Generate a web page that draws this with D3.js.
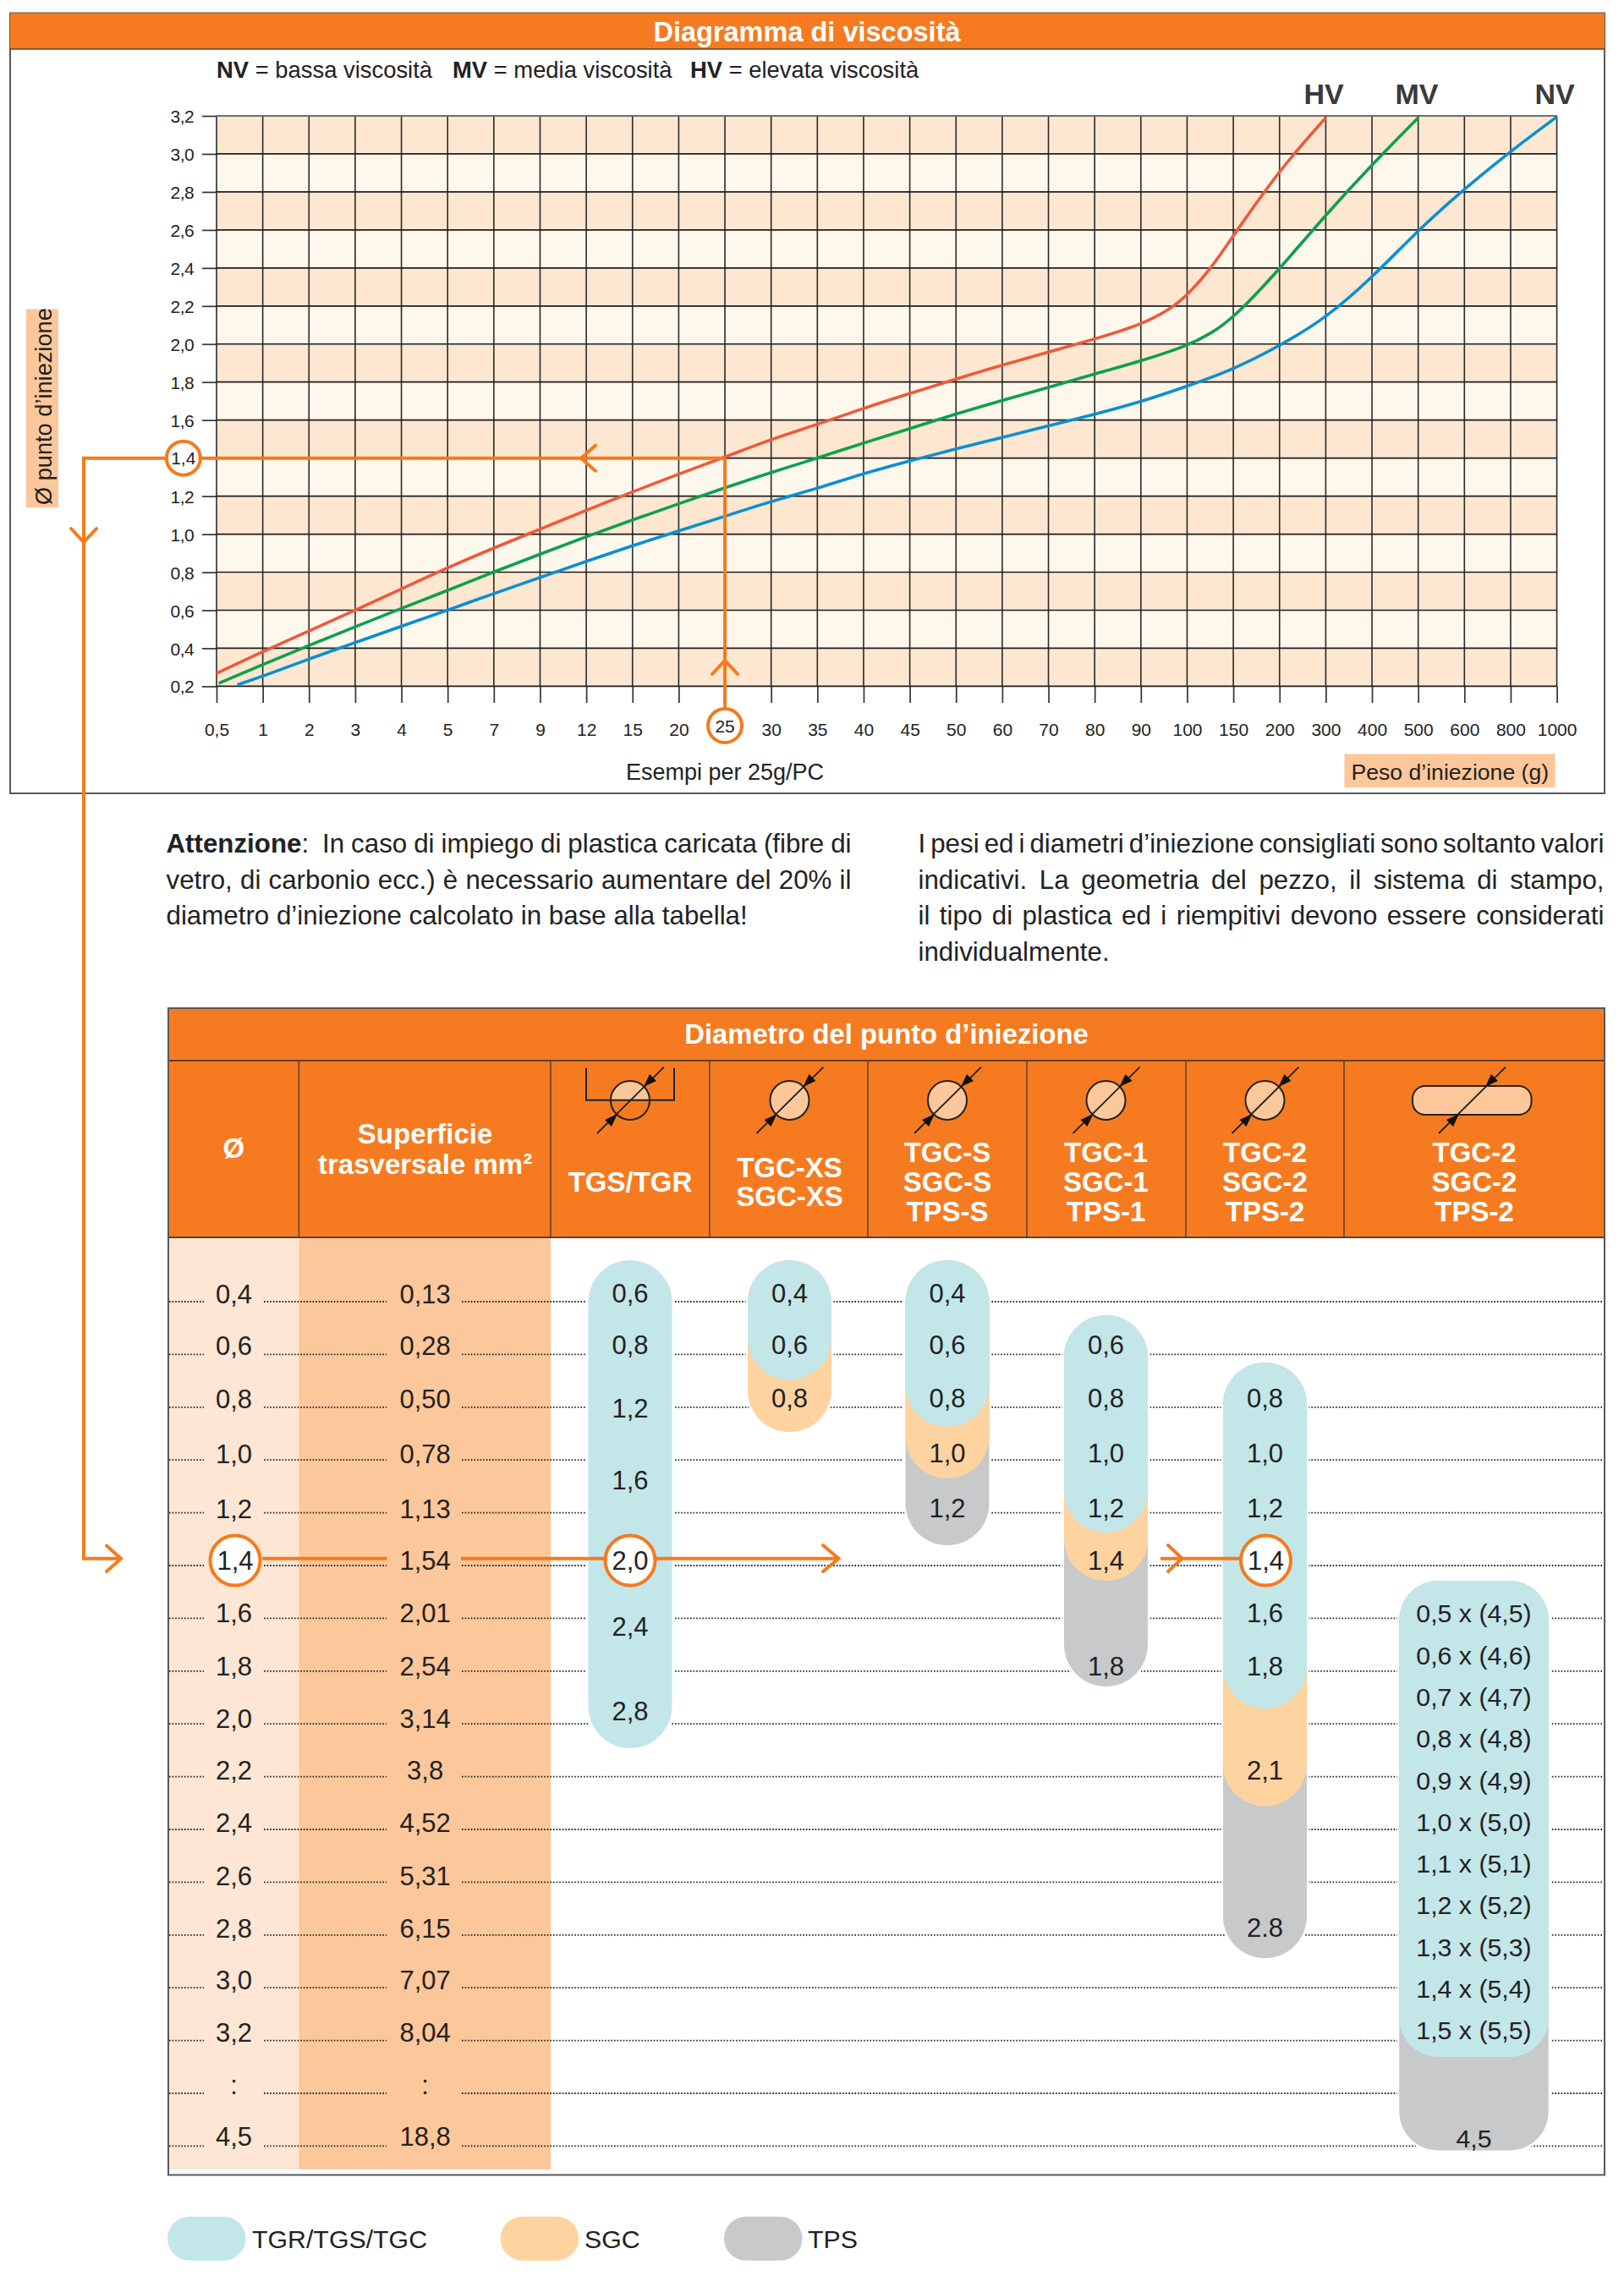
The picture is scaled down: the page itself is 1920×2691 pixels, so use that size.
<!DOCTYPE html>
<html><head><meta charset="utf-8">
<script src="https://d3js.org/d3.v7.min.js"></script>
<style>html,body{margin:0;padding:0;background:#fff}svg{display:block}text{font-family:"Liberation Sans",Arial,sans-serif;fill:#222}</style>
</head><body><svg id="c" width="1920" height="2691"></svg>
<script>
// ---------- data: viscosity diagram ----------
const weightTicks=["0,5","1","2","3","4","5","7","9","12","15","20","25","30","35","40","45","50","60","70","80","90","100","150","200","300","400","500","600","800","1000"];
const diamTicks=[0.2,0.4,0.6,0.8,1.0,1.2,1.4,1.6,1.8,2.0,2.2,2.4,2.6,2.8,3.0,3.2];
const hvPos=[0,1,2,3,4,5,6,7,8,9,10,11,12,13,14,15,16,17,18,19,20,20.68,21,21.5,22,23,24];
const hvVal=[0.268,0.383,0.49,0.60,0.712,0.824,0.928,1.026,1.126,1.222,1.317,1.405,1.5,1.576,1.663,1.74,1.816,1.89,1.957,2.026,2.1,2.19,2.257,2.39,2.57,2.917,3.19];
const mvPos=[0.05,1,2,3,4,5,6,7,8,9,10,11,12,13,14,15,16,17,18,19,20,21,21.5,22,23,24,25,26];
const mvVal=[0.216,0.314,0.415,0.513,0.61,0.704,0.802,0.895,0.987,1.075,1.16,1.244,1.325,1.4,1.48,1.554,1.633,1.704,1.772,1.843,1.91,1.99,2.053,2.135,2.394,2.68,2.944,3.19];
const nvPos=[0.45,1,2,3,4,5,6,7,8,9,10,11,12,13,14,15,16,17,18,19,20,21,22,23,24,25,26,27,28,29];
const nvVal=[0.208,0.252,0.344,0.43,0.516,0.6,0.688,0.772,0.857,0.94,1.017,1.094,1.173,1.24,1.32,1.385,1.45,1.508,1.57,1.63,1.696,1.778,1.866,1.99,2.135,2.348,2.6,2.816,3.015,3.195];
// ---------- data: table ----------
const diameters=["0,4","0,6","0,8","1,0","1,2","1,4","1,6","1,8","2,0","2,2","2,4","2,6","2,8","3,0","3,2",":","4,5"];
const areas=["0,13","0,28","0,50","0,78","1,13","1,54","2,01","2,54","3,14","3,8","4,52","5,31","6,15","7,07","8,04",":","18,8"];
const rowNudge=[0.03,0.01,0.02,0.06,0.1,0.08,0.07,0.08,0.08,0.05,0.05,0.05,0.05,0.03,0.03,0.02,0];
const gateTypes=["TGR/TGS/TGC","SGC","TPS"];
const colHeads=[["TGS/TGR"],["TGC-XS","SGC-XS"],["TGC-S","SGC-S","TPS-S"],["TGC-1","SGC-1","TPS-1"],["TGC-2","SGC-2","TPS-2"],["TGC-2","SGC-2","TPS-2"]];
// pills: [start row, end of TGR/TGS/TGC, end of SGC, end of TPS] (null = absent)
const pillRanges=[[-0.785,8.46,null,null],[-0.785,1.48,2.47,null],[-0.785,2.37,3.35,4.615],[0.256,4.375,5.29,7.29],[1.154,7.71,9.56,12.44],[5.29,14.31,null,16.08]];
const pill0Labels=["0,6","0,8","1,2","1,6","2,0","2,4","2,8"], pill0Rows=[0.02,1,2.19,3.55,5.08,6.33,7.94];
const pill1Labels=["0,4","0,6","0,8"], pill1Rows=[0.02,1,2.01];
const pill2Labels=["0,4","0,6","0,8","1,0","1,2"], pill2Rows=[0.02,1,2.01,3.05,4.09];
const pill3Labels=["0,6","0,8","1,0","1,2","1,4","1,8"], pill3Rows=[1,2.01,3.05,4.09,5.08,7.09];
const pill4Labels=["0,8","1,0","1,2","1,4","1,6","1,8","2,1","2.8"], pill4Rows=[2.01,3.05,4.09,5.08,6.08,7.09,9.06,12.04];
const pill5Labels=["0,5 x (4,5)","0,6 x (4,6)","0,7 x (4,7)","0,8 x (4,8)","0,9 x (4,9)","1,0 x (5,0)","1,1 x (5,1)","1,2 x (5,2)","1,3 x (5,3)","1,4 x (5,4)","1,5 x (5,5)","4,5"];
const pill5Rows=[6.08,6.87,7.66,8.45,9.24,10.03,10.82,11.61,12.4,13.19,13.98,16.02];
const noteLeft=["Attenzione:\u00a0\u00a0In caso di impiego di plastica caricata (fibre di","vetro, di carbonio ecc.) è necessario aumentare del 20% il","diametro d’iniezione calcolato in base alla tabella!"];
const noteRight=["I pesi ed i diametri d’iniezione consigliati sono soltanto valori","indicativi. La geometria del pezzo, il sistema di stampo,","il tipo di plastica ed i riempitivi devono essere considerati","individualmente."];

// ---------- style ----------
const ORANGE="#f67b20",BORDER="#58585a",ARROW="#f57a1d",PEACH="#fcc79a",PALE="#fde6d3";
const BLUE="#c3e6e9",SAND="#fed39f",GREY="#c8c9cb";
const svg=d3.select("#c");
svg.append("rect").attr("width",1920).attr("height",2691).attr("fill","#fff");
const txt=(g,x,y,s,o={})=>g.append("text").attr("x",x).attr("y",y).attr("text-anchor",o.a||"middle")
  .attr("font-size",o.s||31).attr("font-weight",o.b?"bold":null).style("fill",o.c||"#222").style("letter-spacing",o.ls||null).text(s);

// ========== upper panel ==========
const panel=svg.append("g");
panel.append("rect").attr("x",12).attr("y",15.5).attr("width",1885).attr("height",922.5).attr("fill","#fff").attr("stroke",BORDER).attr("stroke-width",2);
panel.append("rect").attr("x",12).attr("y",15.5).attr("width",1885).attr("height",42.5).attr("fill",ORANGE);
panel.append("line").attr("x1",12).attr("x2",1897).attr("y1",58).attr("y2",58).attr("stroke","#5a4030").attr("stroke-width",1.5);
txt(panel,954,48.5,"Diagramma di viscosità",{s:32.5,b:1,c:"#fff"});
const legendBits=[[256,"NV"," = bassa viscosità"],[535,"MV"," = media viscosità"],[816,"HV"," = elevata viscosità"]];
legendBits.forEach(([x,a,b])=>{const t=panel.append("text").attr("x",x).attr("y",92).attr("font-size",27.4);
  t.append("tspan").attr("font-weight","bold").text(a);t.append("tspan").text(b);});

const x=d3.scaleLinear().domain([0,weightTicks.length-1]).range([256,1840.6]);
const y=d3.scaleLinear().domain([0.2,3.2]).range([811.4,137]);
const plot=panel.append("g");
d3.range(diamTicks.length-1).forEach(i=>{
  plot.append("rect").attr("x",x(0)).attr("width",x(29)-x(0)).attr("y",y(diamTicks[i+1])).attr("height",y(diamTicks[i])-y(diamTicks[i+1]))
    .attr("fill",i%2==0?"#fde7d0":"#fef7ec");
});
const axL=d3.axisLeft(y).tickValues(diamTicks).tickSize(x(0)-239).tickPadding(10).tickFormat(d=>d3.format(".1f")(d).replace(".",","));
const gy=plot.append("g").attr("transform",`translate(${x(0)},0)`).call(axL);
const axB=d3.axisBottom(x).tickValues(d3.range(weightTicks.length)).tickSize(831-y(0.2)).tickPadding(24).tickFormat(i=>weightTicks[i]);
const gx=plot.append("g").attr("transform",`translate(0,${y(0.2)})`).call(axB);
[gy,gx].forEach(g=>{g.select(".domain").remove();g.selectAll("text").attr("font-size",21).style("fill","#222").style("font-family",'"Liberation Sans"');g.selectAll("line").attr("stroke","#333").attr("stroke-width",1.7);});
gy.selectAll("text").style("letter-spacing","-0.6px").attr("dy","0.36em");
// full grid
plot.append("g").selectAll("line").data(d3.range(weightTicks.length)).join("line").attr("x1",d=>x(d)).attr("x2",d=>x(d)).attr("y1",y(3.2)).attr("y2",y(0.2)).attr("stroke","#2a2a2a").attr("stroke-width",1.6);
plot.append("g").selectAll("line").data(diamTicks).join("line").attr("x1",x(0)).attr("x2",x(29)).attr("y1",d=>y(d)).attr("y2",d=>y(d)).attr("stroke","#1e1e1e").attr("stroke-width",1.7);
plot.append("line").attr("x1",x(0)).attr("x2",x(29)).attr("y1",y(3.2)).attr("y2",y(3.2)).attr("stroke","#777").attr("stroke-width",1.7);
// curves
const line=d3.line().x(d=>x(d[0])).y(d=>y(d[1])).curve(d3.curveBasis);
[[hvPos,hvVal,"#ee5a3c"],[mvPos,mvVal,"#0da04f"],[nvPos,nvVal,"#0b8fd2"]].forEach(([p,v,c])=>{
  plot.append("path").datum(p.map((q,i)=>[q,v[i]])).attr("d",line).attr("fill","none").attr("stroke",c).attr("stroke-width",3.6);
});
txt(panel,1565,122.5,"HV",{s:34,b:1,c:"#3a3a3c"});
txt(panel,1675,122.5,"MV",{s:34,b:1,c:"#3a3a3c"});
txt(panel,1838,122.5,"NV",{s:34,b:1,c:"#3a3a3c"});
// axis titles
panel.append("rect").attr("x",31).attr("y",365.5).attr("width",38).attr("height",234.5).attr("fill",PEACH);
panel.append("text").attr("transform","translate(61,597) rotate(-90)").attr("font-size",27.2).text("Ø punto d’iniezione");
txt(panel,740,921.6,"Esempi per 25g/PC",{a:"start",s:27});
panel.append("rect").attr("x",1589.5).attr("y",891.5).attr("width",249).attr("height",39.5).attr("fill",PEACH);
txt(panel,1597.5,921.6,"Peso d’iniezione (g)",{a:"start",s:26.6});

// ========== notes ==========
const notes=svg.append("g");
function justify(t,w){const s=t.text().split(/[ \u00a0]/).length-1;const l=t.node().getComputedTextLength();t.attr("word-spacing",(w-l)/s);}
noteLeft.forEach((s,i)=>{
  const t=notes.append("text").attr("x",196.5).attr("y",1008+i*42.7).attr("font-size",31.3);
  if(i==0){t.append("tspan").attr("font-weight","bold").text("Attenzione");t.append("tspan").text(s.slice(10));}else t.text(s);
  if(i<2)justify(t,810);
});
noteRight.forEach((s,i)=>{
  const t=notes.append("text").attr("x",1085.5).attr("y",1008+i*42.7).attr("font-size",31.3).text(s);
  if(i<3)justify(t,811);
});

// ========== table ==========
const tab=svg.append("g");
const colX=[199,353.4,651,839,1026,1214,1402,1589,1897];
const colC=[745,933.5,1120,1307.5,1495.5,1743];
const row=d3.scaleLinear().domain([0,16]).range([1539,2537.4]);
tab.append("rect").attr("x",colX[0]).attr("y",1463).attr("width",colX[1]-colX[0]).attr("height",2565-1463).attr("fill",PALE);
tab.append("rect").attr("x",colX[1]).attr("y",1463).attr("width",colX[2]-colX[1]).attr("height",2565-1463).attr("fill",PEACH);
tab.append("rect").attr("x",colX[0]).attr("y",1192).attr("width",colX[8]-colX[0]).attr("height",271).attr("fill",ORANGE);
// dotted rows
const dots=(x1,x2,yy)=>tab.append("line").attr("x1",x1).attr("x2",x2).attr("y1",yy).attr("y2",yy).attr("stroke","#222").attr("stroke-width",1.8).attr("stroke-dasharray","1.6 2");
diameters.forEach((d,i)=>{dots(200,241,row(i));dots(312,457,row(i));dots(546,1894,row(i));});
// header rules
[1254,1463].forEach(v=>tab.append("line").attr("x1",colX[0]).attr("x2",colX[8]).attr("y1",v).attr("y2",v).attr("stroke","#5a4030").attr("stroke-width",1.8));
colX.slice(1,8).forEach(v=>tab.append("line").attr("x1",v).attr("x2",v).attr("y1",1254).attr("y2",1463).attr("stroke","#5a4030").attr("stroke-width",1.5));
tab.append("rect").attr("x",colX[0]).attr("y",1192).attr("width",colX[8]-colX[0]).attr("height",1379.5).attr("fill","none").attr("stroke",BORDER).attr("stroke-width",2);
txt(tab,1048,1234,"Diametro del punto d’iniezione",{s:32.8,b:1,c:"#fff"});
txt(tab,276.4,1368.5,"Ø",{s:33,b:1,c:"#fff"});
txt(tab,502.6,1351.5,"Superficie",{s:33,b:1,c:"#fff"});
txt(tab,502.6,1388,"trasversale mm²",{s:33,b:1,c:"#fff"});
const headBase={1:[1408.5],2:[1391.5,1426],3:[1373.5,1408.5,1443.5]};
colHeads.forEach((h,i)=>h.forEach((s,j)=>txt(tab,colC[i],headBase[h.length][j],s,{s:33,b:1,c:"#fff"})));
// header icons
function gateIcon(cx,bucket){
  const g=tab.append("g");
  if(bucket){
    g.append("path").attr("d",`M${cx-23} 1300.7A23 23 0 0 1 ${cx+23} 1300.7Z`).attr("fill",PEACH);
    g.append("circle").attr("cx",cx).attr("cy",1301).attr("r",23).attr("fill","none").attr("stroke","#222").attr("stroke-width",2);
    g.append("path").attr("d",`M${cx-52} 1262.7V1300.7H${cx+52} V1262.7`).attr("fill","none").attr("stroke","#222").attr("stroke-width",2);
  } else g.append("circle").attr("cx",cx).attr("cy",1301).attr("r",23).attr("fill",PEACH).attr("stroke","#222").attr("stroke-width",2);
  diag(g,cx);
}
function diag(g,cx){
  g.append("line").attr("x1",cx-39).attr("y1",1340).attr("x2",cx+40).attr("y2",1261.7).attr("stroke","#222").attr("stroke-width",1.8);
  g.append("path").attr("d",`M${cx+16} 1285L${cx+31} 1278L${cx+23} 1270Z M${cx-15} 1317L${cx-30} 1324L${cx-22} 1332Z`).attr("fill","#111");
}
colC.slice(0,5).forEach((c,i)=>gateIcon(c,i==0));
const wide=tab.append("g");
wide.append("rect").attr("x",1670).attr("y",1284).attr("width",140.5).attr("height",34).attr("rx",15).attr("fill",PEACH).attr("stroke","#222").attr("stroke-width",2);
diag(wide,1740);

// row labels
diameters.forEach((d,i)=>{txt(tab,276.5,row(i+rowNudge[i]),d);txt(tab,502.6,row(i+rowNudge[i]),areas[i]);});

// pills
const pillW=[99,99,99,99,99,176.5], pillR=[49.5,49.5,49.5,49.5,49.5,46];
pillRanges.forEach((r,i)=>{
  const g=tab.append("g"), X=colC[i]-pillW[i]/2-(i==5?0.5:0);
  const last=Math.max(...r.slice(1).filter(v=>v!=null));
  g.append("rect").attr("x",X).attr("width",pillW[i]).attr("y",row(r[0])).attr("height",row(last)-row(r[0])).attr("rx",pillR[i]).attr("fill","#fff").attr("stroke","#fff").attr("stroke-width",5);
  [[3,GREY],[2,SAND],[1,BLUE]].forEach(([k,c])=>{ if(r[k]==null)return;
    g.append("rect").attr("x",X).attr("width",pillW[i]).attr("y",row(r[0])).attr("height",row(r[k])-row(r[0])).attr("rx",pillR[i]).attr("fill",c);
  });
});
[[pill0Labels,pill0Rows],[pill1Labels,pill1Rows],[pill2Labels,pill2Rows],[pill3Labels,pill3Rows],[pill4Labels,pill4Rows],[pill5Labels,pill5Rows]].forEach(([l,r],i)=>{
  l.forEach((s,j)=>{ if(!(s=="2,0"&&i==0)&&!(s=="1,4"&&i==4)) txt(tab,colC[i]-(i==5?0.5:0),row(r[j]),s,{s:i==5?30.3:31}); });
});
// legend
const legX=[198,591.6,856], legC=[BLUE,SAND,GREY], legT=[298,691,955];
gateTypes.forEach((s,i)=>{
  svg.append("rect").attr("x",legX[i]).attr("y",2620.7).attr("width",92.5).attr("height",52).attr("rx",26).attr("fill",legC[i]);
  txt(svg,legT[i],2658,s,{a:"start",s:30.3});
});

// ========== orange guide lines ==========
const gd=svg.append("g").attr("fill","none").attr("stroke",ARROW).attr("stroke-width",4);
const py=y(1.4), px=x(weightTicks.indexOf("25"));
gd.append("path").attr("d",`M${px} ${py}H99V1842.7H143`);
gd.append("path").attr("d",`M${px} ${py}V838`);
gd.append("path").attr("d",`M310 1842.7H457.5M545 1842.7H714M776 1842.7H991M1372 1842.7H1466`);
const chev=(d)=>gd.append("path").attr("d",d).attr("stroke-linecap","round");
chev(`M704 ${py-15}L687 ${py}L704 ${py+15}`);
chev(`M${px-15} 797L${px} 781L${px+15} 797`);
chev(`M84 625L99 641L114 625`);
chev(`M126 1827.5L143 1842.7L126 1858`);
chev(`M973 1827L991.5 1842.7L973 1858`);
chev(`M1381 1827L1397.5 1842.7L1381 1858`);
const circ=(cx,cy,r,s,fs)=>{svg.append("circle").attr("cx",cx).attr("cy",cy).attr("r",r).attr("fill","#fff").attr("stroke",ARROW).attr("stroke-width",4);
  txt(svg,cx,cy+fs*0.36,s,{s:fs});};
circ(216.8,py,20,"1,4",21);
circ(px,858,20,"25",21);
circ(278,1845,29.5,"1,4",31);
circ(745,1845,29.5,"2,0",31);
circ(1496.5,1845,29.5,"1,4",31);
</script></body></html>
